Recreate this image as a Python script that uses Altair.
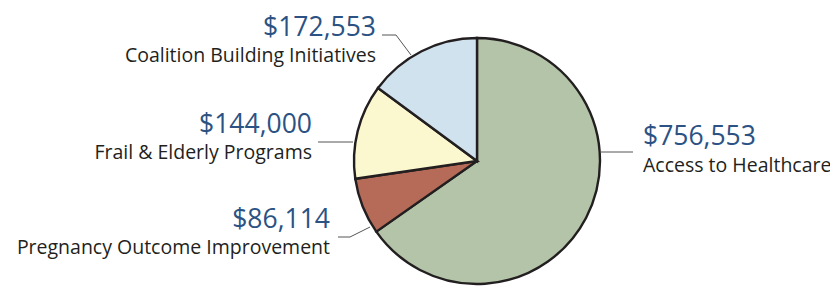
import altair as alt
import pandas as pd

categories = ["Access to Healthcare", "Pregnancy Outcome Improvement", "Frail & Elderly Programs", "Coalition Building Initiatives"]
amounts = [756553, 86114, 144000, 172553]
amount_labels = ["$756,553", "$86,114", "$144,000", "$172,553"]
colors = ["#b3c4a8", "#b56b58", "#fbf8cf", "#d1e2ef"]

# layout (pixel positions inside the chart, not data)
cx, cy, R = 469, 153, 123
label_x = [635, 322, 304, 368]
amount_y = [137, 220, 125, 28]
name_y = [164, 246, 151, 54]
align = ["left", "right", "right", "right"]

df = pd.DataFrame({"category": categories, "amount": amounts, "order": [0, 1, 2, 3]})

pie = alt.Chart(df).mark_arc(radius=R, stroke="#231f20", strokeWidth=2.4).encode(
    theta=alt.Theta("amount:Q", stack=True),
    order=alt.Order("order:Q"),
    color=alt.Color("category:N", scale=alt.Scale(domain=categories, range=colors), legend=None),
    x=alt.value(cx), y=alt.value(cy),
)

lab = pd.DataFrame({"amt": amount_labels, "name": categories, "lx": label_x,
                    "ay": amount_y, "ny": name_y, "align": align})

layers = [pie]
for a in ["left", "right"]:
    sub = lab[lab["align"] == a]
    layers.append(alt.Chart(sub).mark_text(align=a, baseline="alphabetic", font="Open Sans",
                                           fontSize=26.5, color="#2b5283").encode(
        x=alt.X("lx:Q", scale=None), y=alt.Y("ay:Q", scale=None), text="amt:N"))
    layers.append(alt.Chart(sub).mark_text(align=a, baseline="alphabetic", font="Open Sans",
                                           fontSize=19.5, color="#231f20").encode(
        x=alt.X("lx:Q", scale=None), y=alt.Y("ny:Q", scale=None), text="name:N"))

# leader lines (pixel segments)
seg_x = [592, 310, 330, 342, 374, 388]
seg_x2 = [625, 345, 342, 362, 388, 403]
seg_y = [144, 134, 229, 229, 27, 27]
seg_y2 = [144, 134, 229, 219, 27, 47]
for i in range(len(seg_x)):
    layers.append(alt.Chart(df.head(1)).mark_rule(color="#555555", strokeWidth=1).encode(
        x=alt.value(seg_x[i]), x2=alt.value(seg_x2[i]), y=alt.value(seg_y[i]), y2=alt.value(seg_y2[i])))

chart = alt.layer(*layers).properties(width=822, height=278, padding=0, autosize="none").configure_view(stroke=None)
chart.save("out.html", embed_options={"renderer": "svg", "actions": False})
